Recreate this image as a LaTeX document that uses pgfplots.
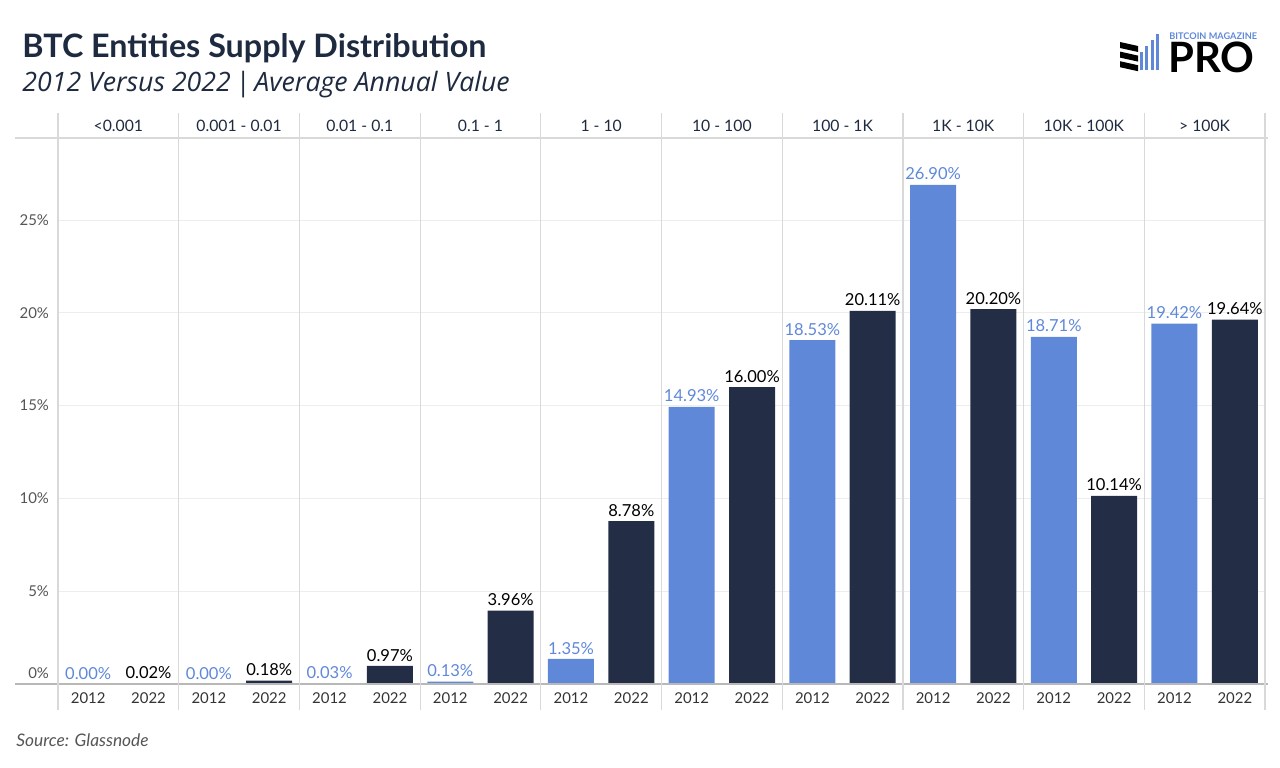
\documentclass[border=0pt]{standalone}
\usepackage{fontspec}
\setmainfont{Lato}
\newfontfamily\subfont{Open Sans}
\usepackage{pgfplots}
\usepackage{pgfplotstable}
\pgfplotsset{compat=1.18}
\definecolor{bblue}{HTML}{5F88D9}
\definecolor{bdark}{HTML}{232E46}
\definecolor{titlec}{HTML}{1E2A40}
\definecolor{gridc}{HTML}{EDEDED}
\definecolor{sepc}{HTML}{D9D9D9}
\definecolor{tickc}{HTML}{555555}
\definecolor{yearc}{HTML}{333333}

\pgfplotstableread{
x y
0.5 0.00
2.5 0.00
4.5 0.03
6.5 0.13
8.5 1.35
10.5 14.93
12.5 18.53
14.5 26.90
16.5 18.71
18.5 19.42
}\tA
\pgfplotstableread{
x y
1.5 0.02
3.5 0.18
5.5 0.97
7.5 3.96
9.5 8.78
11.5 16.00
13.5 20.11
15.5 20.20
17.5 10.14
19.5 19.64
}\tB

\begin{document}
\begin{tikzpicture}
\path[use as bounding box] (0bp,0bp) rectangle (640bp,384bp);
\begin{axis}[
  at={(29bp,42bp)}, anchor=south west,
  scale only axis, width=603.5bp, height=273bp,
  xmin=0, xmax=20, ymin=0, ymax=29.42,
  axis line style={draw=none},
  major tick length=0pt,
  ytick={5,10,15,20,25},
  extra y ticks={0},
  extra y tick style={yticklabel style={yshift=5.5bp}},
  yticklabel={\pgfmathprintnumber{\tick}\%},
  yticklabel style={font=\fontsize{7.5}{9}\selectfont, text=tickc, xshift=-1bp},
  /pgf/number format/assume math mode=true,
  xtick={0.5,1.5,...,19.5},
  xticklabels={2012,2022,2012,2022,2012,2022,2012,2022,2012,2022,2012,2022,2012,2022,2012,2022,2012,2022,2012,2022},
  xticklabel style={font=\fontsize{7.5}{9}\selectfont, text=yearc, yshift=-1bp},
  ymajorgrids, grid style={gridc, line width=0.5bp},
  ybar, bar width=23bp, bar shift=0pt,
  clip=false,
  nodes near coords={\pgfmathprintnumber[fixed,fixed zerofill,precision=2]{\pgfplotspointmeta}\%},
  nodes near coords style={font=\fontsize{8.3}{10}\selectfont, /pgf/number format/assume math mode=true, inner sep=2.2bp},
]
\addplot[fill=bblue, draw=none, every node near coord/.append style={text=bblue}] table[x=x,y=y] {\tA};
\addplot[fill=bdark, draw=none, every node near coord/.append style={text=black}] table[x=x,y=y] {\tB};
\end{axis}
\begin{scope}[x=1bp,y=1bp]
% titles
\node[anchor=base west, inner sep=0, font=\fontsize{16.2}{19}\selectfont\bfseries, text=titlec] at (11,355.5) {BTC Entities Supply Distribution};
\node[anchor=base west, inner sep=0, font=\subfont\fontsize{13.4}{15}\selectfont\itshape, text=titlec] at (11,338.5) {2012 Versus 2022\,|\,Average Annual Value};
\node[anchor=base west, inner sep=0, font=\fontsize{8.7}{10}\selectfont\itshape, text=tickc] at (8,11) {Source: Glassnode};
% logo
\node[anchor=base west, inner sep=0, font=\fontsize{4.6}{5}\selectfont\bfseries, text=bblue] at (584.5,364.5) {BITCOIN MAGAZINE};
\node[anchor=base west, inner sep=0, font=\fontsize{21}{22}\selectfont\bfseries, text=black] at (584,348) {PRO};
\foreach \i in {0,1,2} {
  \fill[black] (560,{363-\i*4.8}) -- (569,{361-\i*4.8}) -- (569,{358-\i*4.8}) -- (560,{360-\i*4.8}) -- cycle;
}
\foreach \i/\h in {0/9,1/12,2/15,3/18} {
  \fill[bblue] ({570+\i*2.7},{349}) rectangle ++(1.5,\h);
}
% frame lines
\draw[sepc, line width=0.6bp] (7.5,315) -- (634,315);
\draw[black!28, line width=0.7bp] (7.5,42) -- (634,42);
\foreach \k in {0,...,10} {
  \draw[sepc, line width=0.6bp] ({29+60.35*\k},29) -- ({29+60.35*\k},327.5);
}
\foreach \k/\lab in {0/{<0.001},1/{0.001 - 0.01},2/{0.01 - 0.1},3/{0.1 - 1},4/{1 - 10},5/{10 - 100},6/{100 - 1K},7/{1K - 10K},8/{10K - 100K},9/{> 100K}} {
  \node[font=\fontsize{7.9}{9}\selectfont, text=titlec, inner sep=0] at ({29+60.35*\k+30.175},321) {\lab};
}
\end{scope}
\end{tikzpicture}
\end{document}
